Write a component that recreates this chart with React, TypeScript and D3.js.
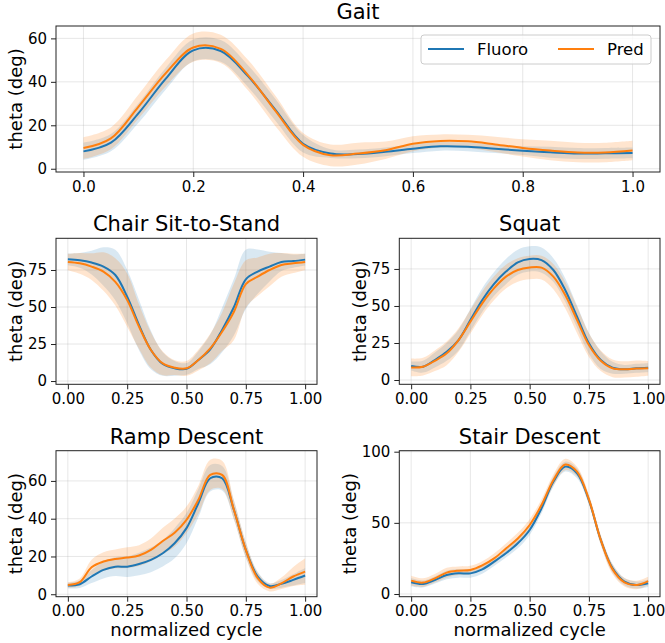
import React, { useEffect, useRef } from 'react';
import * as d3 from 'd3';

// normalized cycle sample points
const cycle = [0, 0.05, 0.1, 0.15, 0.2, 0.25, 0.3, 0.35, 0.4, 0.45, 0.5, 0.55, 0.6, 0.65, 0.7, 0.75, 0.8, 0.85, 0.9, 0.95, 1.0];

const seriesNames = ['Fluoro', 'Pred'];

// Gait
const gaitFluoro = [8, 12, 25.5, 41.5, 54.5, 54.2, 42.5, 27, 11.5, 7, 6.8, 7.8, 9.2, 10.3, 10.1, 9.2, 8.3, 7.6, 7, 7.1, 7.3];
const gaitFluoroSd = [4, 4, 4.5, 5, 5, 5, 5, 5, 4, 2, 2, 2, 2, 2, 2, 2, 2, 2.5, 2.5, 2.5, 2.5];
const gaitPred = [9.5, 14, 28.5, 44, 55.8, 55.2, 43, 26.5, 11, 6.2, 7, 8.5, 11.5, 12.8, 12.6, 11.2, 9.6, 8.4, 7.5, 7.5, 8.4];
const gaitPredSd = [5, 5, 5.5, 6, 6.5, 6.5, 7, 7, 5.5, 5, 5, 4, 3.5, 3, 3, 3.5, 4, 4.5, 4.5, 4.5, 4.5];

// Chair Sit-to-Stand
const chairFluoro = [82.2, 81.5, 80, 77.3, 71.6, 57, 37.8, 21, 11.5, 8.6, 8.2, 14.2, 21.4, 34.5, 50, 68.7, 73.9, 77.3, 80.4, 81, 82];
const chairFluoroSd = [4, 5, 8, 13, 17, 18, 17, 13, 8, 5, 4, 6, 10, 15, 19, 20, 15, 10, 6, 4.5, 4];
const chairPred = [80.4, 79.5, 77.3, 73.9, 67, 54.7, 36.7, 21, 11.9, 9, 8.6, 14.2, 22, 33.3, 46.8, 65.5, 70.5, 75, 78.4, 79.5, 80.4];
const chairPredSd = [5.5, 7, 9, 13, 16, 18, 15, 12, 8, 5, 5, 7, 10, 13, 19, 16, 13, 11, 8, 6.5, 5.5];

// Squat
const squatFluoro = [9.5, 9, 13.5, 19, 27, 40.5, 54, 64.9, 73.2, 79.5, 81.8, 81, 74.3, 60.8, 42.8, 24.8, 13.5, 8.3, 7.2, 7.9, 8.3];
const squatFluoroSd = [3, 4, 5, 6, 7, 7.5, 8, 8, 8.5, 8.5, 8.5, 8.5, 8, 8, 7.5, 7, 6, 4, 3, 3, 3];
const squatPred = [8.5, 9, 13, 18, 27, 39.4, 51.8, 62, 69.8, 74.3, 76, 75.9, 69.8, 57.4, 40.5, 23.6, 13, 7.9, 7.2, 7.7, 7.9];
const squatPredSd = [6, 6, 7, 8, 8, 8, 8, 8, 8, 8, 8, 8, 8.5, 9, 9, 8, 7, 6, 5.5, 5.5, 5];

// Ramp Descent
const rampFluoro = [4.6, 5.3, 9.4, 12.9, 14.6, 14.6, 16, 18.2, 21.7, 27, 35, 48.2, 61.4, 61.4, 44.6, 23.5, 9.4, 4.4, 5.5, 7.6, 9.9];
const rampFluoroSd = [1.5, 2, 3.5, 4.5, 5, 5.5, 6, 6.5, 7, 8, 8, 7.5, 7, 6.5, 5, 4, 2.5, 1.5, 2, 3, 4];
const rampPred = [4.9, 6.4, 14.3, 17.3, 18.7, 19.4, 20.5, 23.5, 28.2, 32.6, 39.4, 50, 63.2, 63.2, 44.6, 23.5, 8.5, 3.5, 5.8, 9.4, 12];
const rampPredSd = [1.5, 2, 4, 5, 5, 5.5, 5.5, 6, 7, 7.5, 7, 7.5, 8, 7.5, 5, 4, 3, 2, 3, 5, 7];

// Stair Descent
const stairFluoro = [8.2, 7, 9.8, 13.3, 14.5, 14.5, 17.3, 22.7, 28.6, 35.6, 45, 60.2, 78.9, 89.5, 84.8, 66, 38, 18, 8.7, 6.3, 7.5];
const stairFluoroSd = [3, 2.5, 2.5, 3, 3, 3, 3, 3, 3, 3.5, 3.5, 3.5, 3.5, 3.5, 3.5, 3, 3, 3, 2.5, 2.5, 2.5];
const stairPred = [9.4, 8, 11, 15, 16.4, 16.9, 20.1, 25, 32, 39, 48.5, 62.5, 80, 91, 86, 66.5, 38, 17.3, 8.2, 6.3, 9.1];
const stairPredSd = [3.5, 3, 3, 3.5, 3, 3, 3, 3.5, 3.5, 4, 4, 4, 4, 4, 3.5, 3.5, 3.5, 3.5, 3, 3, 3];

const panels = [
  { title: 'Gait', fluoro: gaitFluoro, fluoroSd: gaitFluoroSd, pred: gaitPred, predSd: gaitPredSd,
    box: [56, 660, 26, 172], yDomain: [-1.5, 65.7], yTicks: [0, 20, 40, 60],
    xTicks: [0, 0.2, 0.4, 0.6, 0.8, 1.0], xFmt: '.1f', labelX: 22, legend: true, xLabel: false },
  { title: 'Chair Sit-to-Stand', fluoro: chairFluoro, fluoroSd: chairFluoroSd, pred: chairPred, predSd: chairPredSd,
    box: [56, 317, 238.3, 384.3], yDomain: [-2.2, 96.4], yTicks: [0, 25, 50, 75],
    xTicks: [0, 0.25, 0.5, 0.75, 1.0], xFmt: '.2f', labelX: 22, legend: false, xLabel: false },
  { title: 'Squat', fluoro: squatFluoro, fluoroSd: squatFluoroSd, pred: squatPred, predSd: squatPredSd,
    box: [399.3, 660, 238.3, 384.3], yDomain: [-2.9, 95.7], yTicks: [0, 25, 50, 75],
    xTicks: [0, 0.25, 0.5, 0.75, 1.0], xFmt: '.2f', labelX: 366, legend: false, xLabel: false },
  { title: 'Ramp Descent', fluoro: rampFluoro, fluoroSd: rampFluoroSd, pred: rampPred, predSd: rampPredSd,
    box: [56, 317, 450.7, 596.7], yDomain: [-1.3, 76], yTicks: [0, 20, 40, 60],
    xTicks: [0, 0.25, 0.5, 0.75, 1.0], xFmt: '.2f', labelX: 22, legend: false, xLabel: true },
  { title: 'Stair Descent', fluoro: stairFluoro, fluoroSd: stairFluoroSd, pred: stairPred, predSd: stairPredSd,
    box: [399.3, 660, 450.7, 596.7], yDomain: [-1.9, 100.7], yTicks: [0, 50, 100],
    xTicks: [0, 0.25, 0.5, 0.75, 1.0], xFmt: '.2f', labelX: 356, legend: false, xLabel: true },
];

const BLUE = '#1f77b4';
const ORANGE = '#ff7f0e';
const FONT = '"DejaVu Sans", sans-serif';

function App() {
  const svgRef = useRef(null);

  useEffect(() => {
    const svg = d3.select(svgRef.current);
    svg.selectAll('*').remove();

    panels.forEach((p) => {
      const [x0, x1, y0, y1] = p.box;
      const x = d3.scaleLinear().domain([-0.05, 1.05]).range([x0, x1]);
      const y = d3.scaleLinear().domain(p.yDomain).range([y1, y0]);
      const g = svg.append('g');

      // grid
      g.selectAll('.gx').data(p.xTicks).enter().append('line')
        .attr('x1', (d) => x(d)).attr('x2', (d) => x(d))
        .attr('y1', y0).attr('y2', y1)
        .attr('stroke', '#b0b0b0').attr('stroke-opacity', 0.3).attr('stroke-width', 1);
      g.selectAll('.gy').data(p.yTicks).enter().append('line')
        .attr('x1', x0).attr('x2', x1)
        .attr('y1', (d) => y(d)).attr('y2', (d) => y(d))
        .attr('stroke', '#b0b0b0').attr('stroke-opacity', 0.3).attr('stroke-width', 1);

      const curve = d3.curveCatmullRom.alpha(0.5);
      const band = (mean, sd) => d3.area()
        .x((d, i) => x(cycle[i]))
        .y0((d, i) => y(mean[i] - sd[i]))
        .y1((d, i) => y(mean[i] + sd[i]))
        .curve(curve)(mean);
      const line = (mean) => d3.line()
        .x((d, i) => x(cycle[i]))
        .y((d) => y(d))
        .curve(curve)(mean);

      g.append('path').attr('d', band(p.fluoro, p.fluoroSd)).attr('fill', BLUE).attr('fill-opacity', 0.17);
      g.append('path').attr('d', band(p.pred, p.predSd)).attr('fill', ORANGE).attr('fill-opacity', 0.2);
      g.append('path').attr('d', line(p.fluoro)).attr('fill', 'none').attr('stroke', BLUE).attr('stroke-width', 2);
      g.append('path').attr('d', line(p.pred)).attr('fill', 'none').attr('stroke', ORANGE).attr('stroke-width', 2);

      // frame
      g.append('rect').attr('x', x0).attr('y', y0).attr('width', x1 - x0).attr('height', y1 - y0)
        .attr('fill', 'none').attr('stroke', '#222').attr('stroke-width', 1);

      const xAxis = g.append('g').attr('transform', `translate(0,${y1})`)
        .call(d3.axisBottom(x).tickValues(p.xTicks).tickFormat(d3.format(p.xFmt)).tickSize(5).tickPadding(4));
      const yAxis = g.append('g').attr('transform', `translate(${x0},0)`)
        .call(d3.axisLeft(y).tickValues(p.yTicks).tickSize(5).tickPadding(4));
      [xAxis, yAxis].forEach((a) => {
        a.select('.domain').remove();
        a.selectAll('line').attr('stroke', '#222');
        a.selectAll('text').attr('font-family', FONT).attr('font-size', 15).attr('fill', '#000');
      });

      g.append('text').attr('x', (x0 + x1) / 2).attr('y', y0 - 7)
        .attr('text-anchor', 'middle').attr('font-family', FONT).attr('font-size', 21)
        .attr('fill', '#000').text(p.title);

      g.append('text')
        .attr('transform', `translate(${p.labelX},${(y0 + y1) / 2}) rotate(-90)`)
        .attr('text-anchor', 'middle').attr('font-family', FONT).attr('font-size', 18)
        .attr('fill', '#000').text('theta (deg)');

      if (p.xLabel) {
        g.append('text').attr('x', (x0 + x1) / 2).attr('y', 636)
          .attr('text-anchor', 'middle').attr('font-family', FONT).attr('font-size', 18)
          .attr('fill', '#000').text('normalized cycle');
      }

      if (p.legend) {
        const lg = g.append('g');
        lg.append('rect').attr('x', 421).attr('y', 35).attr('width', 230).attr('height', 29).attr('rx', 3)
          .attr('fill', '#fff').attr('fill-opacity', 0.8).attr('stroke', '#ccc');
        const items = [
          { name: seriesNames[0], color: BLUE, lx: 428 },
          { name: seriesNames[1], color: ORANGE, lx: 558 },
        ];
        items.forEach((it) => {
          lg.append('line').attr('x1', it.lx).attr('x2', it.lx + 36).attr('y1', 49).attr('y2', 49)
            .attr('stroke', it.color).attr('stroke-width', 2);
          lg.append('text').attr('x', it.lx + 49).attr('y', 55).attr('font-family', FONT)
            .attr('font-size', 16.5).attr('fill', '#000').text(it.name);
        });
      }
    });
  }, []);

  return (
    <svg ref={svgRef} width={665} height={643}
      style={{ position: 'absolute', left: 0, top: 0, background: '#fff' }} />
  );
}

export default App;
